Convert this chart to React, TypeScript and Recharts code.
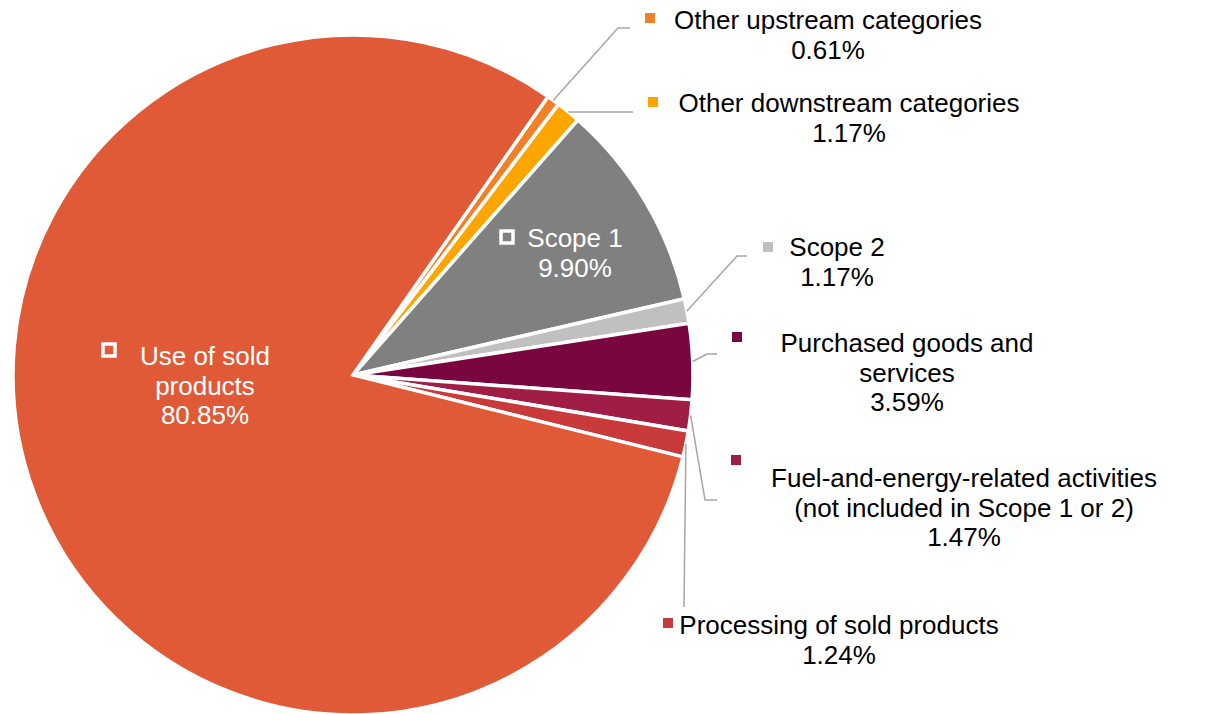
import React from "react";
import { PieChart, Pie, Cell } from "recharts";

// ---- data ----
const categories = [
  "Other upstream categories",
  "Other downstream categories",
  "Scope 1",
  "Scope 2",
  "Purchased goods and services",
  "Fuel-and-energy-related activities (not included in Scope 1 or 2)",
  "Processing of sold products",
  "Use of sold products",
];
const values = [0.61, 1.17, 9.9, 1.17, 3.59, 1.47, 1.24, 80.85];
const labelLines = [
  ["Other upstream categories", "0.61%"],
  ["Other downstream categories", "1.17%"],
  ["Scope 1", "9.90%"],
  ["Scope 2", "1.17%"],
  ["Purchased goods and", "services", "3.59%"],
  ["Fuel-and-energy-related activities", "(not included in Scope 1 or 2)", "1.47%"],
  ["Processing of sold products", "1.24%"],
  ["Use of sold", "products", "80.85%"],
];
const colors = ["#F38026", "#FFA500", "#808080", "#C0C0C0", "#7A0640", "#A01E45", "#C93A3B", "#E05A37"];

// ---- layout (offsets relative to pie centre) ----
type Layout = {
  tx: number; ty: number; // text centre x, first baseline y
  kx: number; ky: number; // key centre
  inside: boolean;
  elbow?: [number, number];
  end?: [number, number];
};
const layout: Layout[] = [
  { tx: 475, ty: -346, kx: 297, ky: -357, inside: false, elbow: [265, -347], end: [277, -347] },
  { tx: 496, ty: -263, kx: 300, ky: -273, inside: false, elbow: [247, -263], end: [280, -263] },
  { tx: 222, ty: -128, kx: 154, ky: -138, inside: true },
  { tx: 484, ty: -119, kx: 415, ky: -128, inside: false, elbow: [384, -119], end: [394, -119] },
  { tx: 554, ty: -23, kx: 384, ky: -38, inside: false, elbow: [354, -21], end: [364, -21] },
  { tx: 611, ty: 112, kx: 383, ky: 85, inside: false, elbow: [352, 125], end: [364, 125] },
  { tx: 486, ty: 259, kx: 315, ky: 248, inside: false, elbow: [331, 232], end: [331, 232] },
  { tx: -148, ty: -10, kx: -244, ky: -25, inside: true },
];

const RAD = Math.PI / 180;
const LINE_H = 29.5;
const FONT = 26;

const renderLabel = (props: any) => {
  const { cx, cy, midAngle, outerRadius, index } = props;
  const L = layout[index];
  const lines = labelLines[index];
  const sx = cx + outerRadius * Math.cos(-midAngle * RAD);
  const sy = cy + outerRadius * Math.sin(-midAngle * RAD);
  const textColor = L.inside ? "#FFFFFF" : "#000000";
  return (
    <g key={`lbl-${index}`}>
      {L.elbow && L.end && (
        <polyline
          points={`${sx},${sy} ${cx + L.elbow[0]},${cy + L.elbow[1]} ${cx + L.end[0]},${cy + L.end[1]}`}
          fill="none"
          stroke="#A6A6A6"
          strokeWidth={1.5}
        />
      )}
      {L.inside ? (
        <rect
          x={cx + L.kx - 6}
          y={cy + L.ky - 6}
          width={12}
          height={12}
          fill="none"
          stroke="#FFFFFF"
          strokeWidth={3.5}
        />
      ) : (
        <rect x={cx + L.kx - 5} y={cy + L.ky - 5} width={10} height={10} fill={colors[index]} />
      )}
      <text
        x={cx + L.tx}
        y={cy + L.ty}
        textAnchor="middle"
        fill={textColor}
        fontSize={FONT}
        fontFamily="'Liberation Sans', Arial, sans-serif"
      >
        {lines.map((ln, i) => (
          <tspan key={i} x={cx + L.tx} y={cy + L.ty + i * LINE_H}>
            {ln}
          </tspan>
        ))}
      </text>
    </g>
  );
};

const data = categories.map((name, i) => ({ name, value: values[i] }));

export default function App() {
  return (
    <div style={{ position: "absolute", left: 0, top: 0, width: 1205, height: 714, background: "#fff" }}>
      <PieChart width={1205} height={714} margin={{ top: 0, right: 0, bottom: 0, left: 0 }}>
        <Pie
          data={data}
          dataKey="value"
          nameKey="name"
          cx={353}
          cy={375}
          outerRadius={340}
          startAngle={55}
          endAngle={-305}
          stroke="#FFFFFF"
          strokeWidth={3.5}
          label={renderLabel}
          labelLine={false}
          isAnimationActive={false}
        >
          {data.map((d, i) => (
            <Cell key={d.name} fill={colors[i]} />
          ))}
        </Pie>
      </PieChart>
    </div>
  );
}
